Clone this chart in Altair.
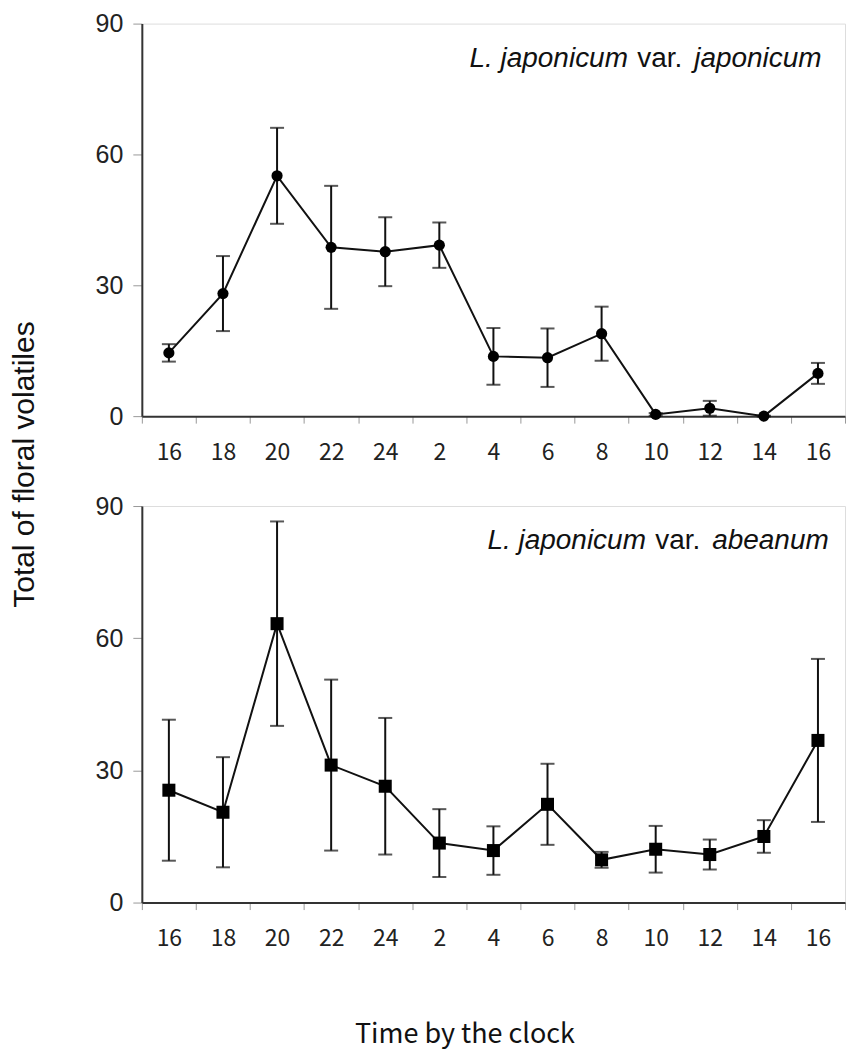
import json
import altair as alt
import pandas as pd

# ---- data ----
time_labels = ["16", "18", "20", "22", "24", "2", "4", "6", "8", "10", "12", "14", "16"]

japonicum_mean = [14.5, 28.1, 55.1, 38.7, 37.7, 39.2, 13.7, 13.4, 18.9, 0.4, 1.8, 0.0, 9.8]
japonicum_se = [2.0, 8.6, 11.0, 14.1, 7.9, 5.2, 6.5, 6.7, 6.2, 0.3, 1.7, 0.1, 2.4]

abeanum_mean = [25.5, 20.5, 63.3, 31.2, 26.4, 13.5, 11.8, 22.3, 9.7, 12.1, 10.9, 15.0, 36.8]
abeanum_se = [16.0, 12.5, 23.2, 19.4, 15.5, 7.7, 5.5, 9.2, 1.8, 5.3, 3.4, 3.7, 18.5]

y_ticks = [0, 30, 60, 90]

AX_FONT = "Liberation Sans"
X_FONT = "Noto Sans CJK JP"
label_expr = json.dumps(time_labels) + "[datum.value]"


def panel(mean, se, shape, size, height, parts, first):
    df = pd.DataFrame({
        "i": list(range(len(mean))),
        "mean": mean,
        "lo": [m - s for m, s in zip(mean, se)],
        "hi": [m + s for m, s in zip(mean, se)],
    })
    x_axis = alt.Axis(
        labelExpr=label_expr, labelAngle=0, tickBand="extent",
        labelFont=X_FONT, labelFontSize=23, labelColor="#222", labelPadding=18,
        tickSize=7, tickColor="#999", tickWidth=1,
        domainColor="#333", domainWidth=2,
        title="Time by the clock" if not first else None,
        titleFont=X_FONT, titleFontSize=27, titleFontWeight="normal", titleColor="#111",
        titleX=323, titleY=140, titleBaseline="alphabetic",
    )
    y_axis = alt.Axis(
        values=y_ticks, labelFont=AX_FONT, labelFontSize=25, labelColor="#222",
        labelPadding=10, tickSize=9, tickColor="#999", tickWidth=1,
        domainColor="#333", domainWidth=2, grid=False,
        title="Total of floral volatiles" if first else None,
        titleFont=AX_FONT, titleFontSize=30, titleFontWeight="normal", titleColor="#111",
        titleX=-108, titleY=441, titleBaseline="alphabetic", titleAngle=270,
    )
    x = alt.X("i:O", scale=alt.Scale(type="band", paddingInner=0, paddingOuter=0), axis=x_axis)
    y = alt.Y("mean:Q", scale=alt.Scale(domain=[0, 90], nice=False, zero=True), axis=y_axis)

    base = alt.Chart(df)
    line = base.mark_line(color="#111", strokeWidth=2).encode(x=x, y=y)
    err = base.mark_rule(color="#111", strokeWidth=2).encode(x=x, y=alt.Y("lo:Q"), y2="hi:Q")
    cap_hi = base.mark_tick(color="#111", thickness=2, size=14).encode(x=x, y=alt.Y("hi:Q"))
    cap_lo = base.mark_tick(color="#111", thickness=2, size=14).encode(x=x, y=alt.Y("lo:Q"))
    pts = base.mark_point(shape=shape, filled=True, color="#000", size=size, opacity=1).encode(x=x, y=y)

    one = pd.DataFrame({"a": [0]})
    texts = []
    for txt, xpos, italic in parts:
        texts.append(
            alt.Chart(one).mark_text(
                text=txt, font=AX_FONT, fontSize=28, align="left", baseline="alphabetic",
                fontStyle="italic" if italic else "normal", color="#111",
            ).encode(x=alt.value(xpos), y=alt.value(43))
        )
    return alt.layer(line, err, cap_hi, cap_lo, pts, *texts).properties(width=704, height=height)


top = panel(japonicum_mean, japonicum_se, "circle", 125, 393,
            [("L. japonicum", 328, True), ("var.", 496, False), ("japonicum", 553, True)], True)
bottom = panel(abeanum_mean, abeanum_se, "square", 170, 397,
               [("L. japonicum", 346, True), ("var.", 514, False), ("abeanum", 571, True)], False)

chart = alt.vconcat(top, bottom, spacing=90, bounds="flush").properties(
    padding={"left": 9, "top": 10, "right": 0, "bottom": 8}
).configure_view(stroke="#333", strokeWidth=2).configure(background="white")

chart.save("out.html", embed_options={"renderer": "svg", "actions": False})
